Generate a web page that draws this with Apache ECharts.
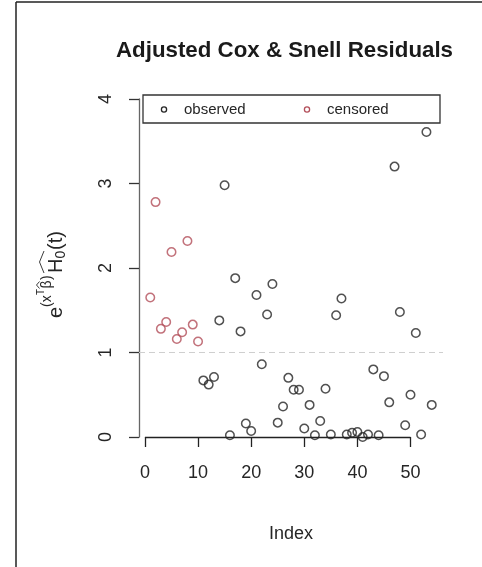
<!DOCTYPE html>
<html>
<head>
<meta charset="utf-8">
<script src="https://cdn.jsdelivr.net/npm/echarts@6/dist/echarts.min.js"></script>
<style>
  html, body { margin: 0; padding: 0; background: #fff; }
  #chart { width: 482px; height: 567px; }
</style>
</head>
<body>
<div id="chart"></div>
<script>
// Observation index and adjusted Cox-Snell residual, split by status
const censoredIndex = [1, 2, 3, 4, 5, 6, 7, 8, 9, 10];
const censoredResid = [1.65, 2.78, 1.28, 1.36, 2.19, 1.16, 1.24, 2.32, 1.33, 1.13];

const observedIndex = [11, 12, 13, 14, 15, 16, 17, 18, 19, 20,
                       21, 22, 23, 24, 25, 26, 27, 28, 29, 30,
                       31, 32, 33, 34, 35, 36, 37, 38, 39, 40,
                       41, 42, 43, 44, 45, 46, 47, 48, 49, 50,
                       51, 52, 53, 54];
const observedResid = [0.67, 0.62, 0.71, 1.38, 2.98, 0.02, 1.88, 1.25, 0.16, 0.07,
                       1.68, 0.86, 1.45, 1.81, 0.17, 0.36, 0.70, 0.56, 0.56, 0.10,
                       0.38, 0.02, 0.19, 0.57, 0.03, 1.44, 1.64, 0.03, 0.05, 0.06,
                       0.00, 0.03, 0.80, 0.02, 0.72, 0.41, 3.20, 1.48, 0.14, 0.50,
                       1.23, 0.03, 3.61, 0.38];

const xTicks = [0, 10, 20, 30, 40, 50];
const yTicks = [0, 1, 2, 3, 4];
const refLevel = 1;
const legendNames = ['observed', 'censored'];

const FONT = '"Liberation Sans", Arial, sans-serif';
const TEXT = '#262626';
const OBS_COLOR = '#262626';
const CEN_COLOR = '#b34f5a';

const zip = (xs, ys) => xs.map((x, i) => [x, ys[i]]);

// R-style 4% padding around the index range
const n = observedIndex[observedIndex.length - 1];
const pad = (n - 1) * 0.04;

const chart = echarts.init(document.getElementById('chart'), null, { renderer: 'canvas' });

// Rotated y-axis title: e^(x^T beta-hat) H0-hat(t)
function yTitle() {
  const main = 20, sup = 14, tiny = 10;
  const t = (text, x, y, size) => ({
    type: 'text', x: x, y: y,
    style: { text: text, fontSize: size, fontFamily: FONT, fill: TEXT,
             align: 'left', verticalAlign: 'middle' }
  });
  return {
    type: 'group', x: 56, y: 318, rotation: Math.PI / 2, silent: true,
    children: [
      t('e', 0, 0, main),
      t('(x', 11, -9, sup),
      t('T', 23, -15, tiny),
      t('\u03b2', 29.5, -9, sup),
      { type: 'polyline', shape: { points: [[29.5, -16.5], [33, -19.5], [36.5, -16.5]] },
        style: { stroke: TEXT, lineWidth: 0.9, fill: null } },
      t(')', 38, -9, sup),
      t('H', 45, 0, main),
      t('0', 59.5, 5, sup),
      { type: 'polyline', shape: { points: [[45, -12], [56, -16.5], [67, -12]] },
        style: { stroke: TEXT, lineWidth: 0.9, fill: null } },
      t('(t)', 68, 0, main)
    ]
  };
}

// Boxed legend along the top of the plotting region
function legendBox() {
  const colors = [OBS_COLOR, CEN_COLOR];
  const keyX = [164, 307];
  const cy = 109.5;
  const items = [{
    type: 'rect', shape: { x: 143, y: 95, width: 297, height: 28 },
    style: { fill: '#fff', stroke: '#333', lineWidth: 1.3 }
  }];
  legendNames.forEach((name, i) => {
    items.push({ type: 'circle', shape: { cx: keyX[i], cy: cy, r: 2.6 },
                 style: { fill: null, stroke: colors[i], lineWidth: 1.3 } });
    items.push({ type: 'text', x: keyX[i] + 20, y: cy,
                 style: { text: name, fontSize: 15, fontFamily: FONT, fill: TEXT,
                          align: 'left', verticalAlign: 'middle' } });
  });
  return { type: 'group', silent: true, z: 10, children: items };
}

chart.setOption({
  animation: false,
  backgroundColor: '#ffffff',
  textStyle: { fontFamily: FONT },
  title: {
    text: 'Adjusted Cox & Snell Residuals',
    left: 116, top: 40, padding: 0,
    textStyle: { fontFamily: FONT, fontSize: 22.3, fontWeight: 'bold', color: '#1a1a1a' }
  },
  grid: { left: 139, right: 39, top: 99, bottom: 130, containLabel: false },
  xAxis: {
    type: 'value',
    min: 1 - pad, max: n + pad,
    splitLine: { show: false },
    axisLine: { show: false },
    axisTick: { show: true, customValues: xTicks, length: 10,
                lineStyle: { color: '#222', width: 1.3 } },
    axisLabel: { customValues: xTicks, fontSize: 18, margin: 27, color: TEXT, fontFamily: FONT },
    name: 'Index', nameLocation: 'middle', nameGap: 88,
    nameTextStyle: { fontSize: 18, color: TEXT, fontFamily: FONT }
  },
  yAxis: {
    type: 'value',
    min: yTicks[0], max: yTicks[yTicks.length - 1], interval: 1,
    splitLine: { show: false },
    axisLine: { show: true, onZero: false, lineStyle: { color: '#666', width: 1.3 } },
    axisTick: { show: true, length: 10, lineStyle: { color: '#333', width: 1.3 } },
    axisLabel: { rotate: 90, fontSize: 18, margin: 24, color: TEXT, fontFamily: FONT }
  },
  graphic: [
    // figure frame (left and top edges)
    { type: 'line', shape: { x1: 16, y1: 2, x2: 16, y2: 567 },
      style: { stroke: '#222', lineWidth: 1.5 }, silent: true },
    { type: 'line', shape: { x1: 16, y1: 2, x2: 482, y2: 2 },
      style: { stroke: '#222', lineWidth: 1.5 }, silent: true },
    yTitle(),
    legendBox()
  ],
  series: [
    {
      name: legendNames[0],
      type: 'scatter',
      clip: false,
      symbol: 'circle',
      symbolSize: 8.5,
      itemStyle: { color: 'rgba(0,0,0,0)', borderColor: OBS_COLOR, borderWidth: 1.5 },
      data: zip(observedIndex, observedResid),
      z: 3
    },
    {
      name: legendNames[1],
      type: 'scatter',
      clip: false,
      symbol: 'circle',
      symbolSize: 8.5,
      itemStyle: { color: 'rgba(0,0,0,0)', borderColor: CEN_COLOR, borderWidth: 1.5 },
      data: zip(censoredIndex, censoredResid),
      z: 3,
      markLine: {
        silent: true,
        symbol: 'none',
        label: { show: false },
        data: [
          // reference level
          { yAxis: refLevel, lineStyle: { color: '#cfcfcf', type: [6, 4], width: 1 } },
          // x axis line drawn only across the labelled tick range
          [ { coord: [xTicks[0], yTicks[0]] },
            { coord: [xTicks[xTicks.length - 1], yTicks[0]] } ]
        ],
        lineStyle: { color: '#222', type: 'solid', width: 1.3 }
      }
    }
  ]
});
</script>
</body>
</html>
